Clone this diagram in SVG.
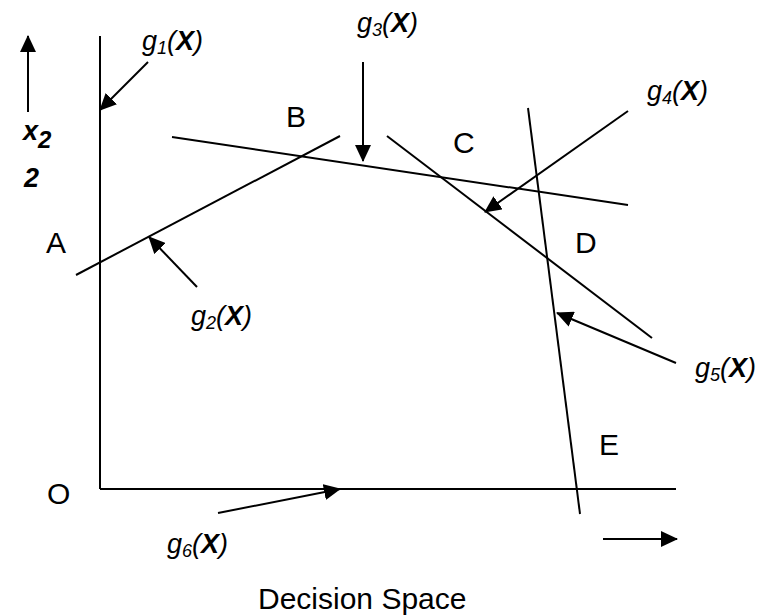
<svg xmlns="http://www.w3.org/2000/svg" width="765" height="615" viewBox="0 0 765 615">
<defs>
<marker id="ah" markerUnits="userSpaceOnUse" markerWidth="17" markerHeight="16" refX="16" refY="8" orient="auto">
<path d="M0,0 L17,8 L0,16 z" fill="#000"/>
</marker>
</defs>
<style>
.ln{stroke:#000;stroke-width:2;fill:none}
.ar{stroke:#000;stroke-width:2;fill:none;marker-end:url(#ah)}
.lbl{font-family:"Liberation Sans",Arial,sans-serif;font-size:30px;fill:#000}
.g{font-family:"Liberation Sans",Arial,sans-serif;font-size:27px;font-style:italic;fill:#000}
.s{font-size:18px}
.b{font-weight:bold}
</style>
<rect width="765" height="615" fill="#fff"/>
<g id="axes">
<line class="ln" x1="100" y1="36" x2="100" y2="489"/>
<line class="ln" x1="100" y1="489" x2="676" y2="489"/>
</g>
<g id="connectors">
<line class="ln" x1="76" y1="275" x2="340" y2="136"/>
<line class="ln" x1="172" y1="137" x2="628" y2="205"/>
<line class="ln" x1="387" y1="136" x2="652" y2="338"/>
<line class="ln" x1="528" y1="108" x2="580" y2="514"/>
<line class="ar" x1="28" y1="112" x2="28" y2="36"/>
<line class="ar" x1="148" y1="62" x2="100" y2="110"/>
<line class="ar" x1="363" y1="62" x2="363" y2="161"/>
<line class="ar" x1="628" y1="111" x2="485" y2="212"/>
<line class="ar" x1="197" y1="287" x2="149" y2="237"/>
<line class="ar" x1="676" y1="363" x2="557" y2="313"/>
<line class="ar" x1="218" y1="513" x2="340" y2="489"/>
<line class="ar" x1="603" y1="539" x2="677" y2="539"/>
</g>
<g id="regionA"><text class="lbl" x="46" y="253">A</text></g>
<g id="regionB"><text class="lbl" x="286" y="127">B</text></g>
<g id="regionC"><text class="lbl" x="453" y="153">C</text></g>
<g id="regionD"><text class="lbl" x="575" y="253">D</text></g>
<g id="regionE"><text class="lbl" x="599" y="455">E</text></g>
<g id="origin"><text class="lbl" x="47" y="504">O</text></g>
<g id="x2label">
<text class="g b" x="23" y="140" font-size="32">x<tspan dy="8" font-size="24">2</tspan></text>
<text class="g b" x="24" y="187" font-size="21">2</text>
</g>
<g id="g1"><text class="g" x="142" y="50">g<tspan class="s" dy="4">1</tspan><tspan dy="-4">(</tspan><tspan class="b">X</tspan>)</text></g>
<g id="g2"><text class="g" x="191" y="325">g<tspan class="s" dy="4">2</tspan><tspan dy="-4">(</tspan><tspan class="b">X</tspan>)</text></g>
<g id="g3"><text class="g" x="357" y="32">g<tspan class="s" dy="4">3</tspan><tspan dy="-4">(</tspan><tspan class="b">X</tspan>)</text></g>
<g id="g4"><text class="g" x="647" y="100">g<tspan class="s" dy="4">4</tspan><tspan dy="-4">(</tspan><tspan class="b">X</tspan>)</text></g>
<g id="g5"><text class="g" x="695" y="377">g<tspan class="s" dy="4">5</tspan><tspan dy="-4">(</tspan><tspan class="b">X</tspan>)</text></g>
<g id="g6"><text class="g" x="167" y="553">g<tspan class="s" dy="4">6</tspan><tspan dy="-4">(</tspan><tspan class="b">X</tspan>)</text></g>
<g id="caption"><text class="lbl" x="258" y="609" font-size="26">Decision Space</text></g>
</svg>
